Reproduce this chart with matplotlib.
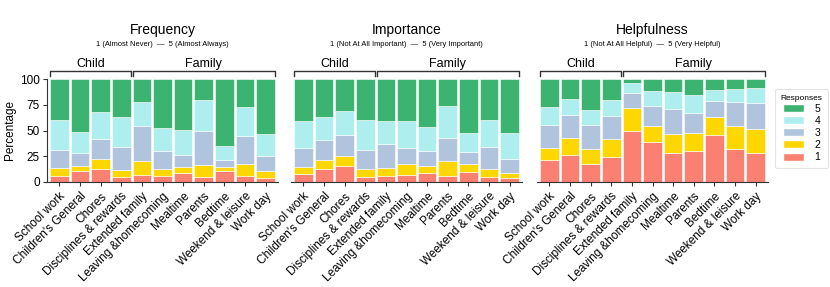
import matplotlib
matplotlib.use("Agg")
import matplotlib.pyplot as plt
import numpy as np
from matplotlib.patches import Patch

plt.rcParams['font.family'] = ['Liberation Sans', 'DejaVu Sans']

categories = ["School work", "Children's General", "Chores", "Disciplines & rewards",
              "Extended family", "Leaving &homecoming", "Mealtime", "Parents",
              "Bedtime", "Weekend & leisure", "Work day"]
groups = [("Child", 0, 3), ("Family", 4, 10)]
responses = ["1", "2", "3", "4", "5"]
colors = {"1": "#FA8072", "2": "#FFD700", "3": "#B0C4DE", "4": "#AFEEEE", "5": "#3CB371"}

titles = ["Frequency", "Importance", "Helpfulness"]
subtitles = ["1 (Almost Never)  —  5 (Almost Always)",
             "1 (Not At All Important)  —  5 (Very Important)",
             "1 (Not At All Helpful)  —  5 (Very Helpful)"]

# cumulative tops of responses 1..4 (5 fills to 100)
freq_cum = [
    [6.2, 13.3, 31.5, 60.0], [10.4, 15.6, 28.2, 48.7], [12.3, 22.7, 42.2, 68.2],
    [4.5, 12.0, 33.8, 62.7], [6.5, 20.8, 54.5, 77.3], [6.2, 13.0, 29.9, 52.6],
    [8.8, 14.9, 26.0, 50.3], [4.9, 16.6, 49.7, 79.5], [10.7, 14.6, 21.4, 35.1],
    [5.8, 17.2, 44.8, 73.0], [3.9, 10.7, 25.6, 47.0]]
imp_cum = [
    [7.5, 14.3, 32.8, 59.0], [12.3, 21.1, 40.6, 62.7], [15.3, 25.3, 45.5, 68.8],
    [4.5, 12.3, 31.2, 60.0], [5.8, 14.0, 37.0, 58.8], [7.1, 17.5, 32.8, 59.4],
    [8.8, 15.9, 30.5, 53.2], [5.8, 20.1, 42.5, 73.7], [9.7, 17.9, 28.9, 47.1],
    [4.9, 12.3, 33.8, 60.4], [3.9, 9.1, 22.4, 47.1]]
help_cum = [
    [21.4, 32.8, 55.5, 73.0], [26.0, 42.9, 64.9, 80.8], [17.9, 31.8, 55.2, 70.1],
    [24.4, 41.6, 64.0, 79.5], [49.4, 72.1, 86.7, 96.1], [39.0, 53.9, 74.0, 88.6],
    [28.6, 46.8, 71.1, 87.7], [30.5, 47.4, 67.2, 84.1], [45.8, 63.0, 78.6, 89.0],
    [32.5, 54.5, 77.6, 90.3], [28.2, 51.9, 76.3, 91.6]]
panels = [freq_cum, imp_cum, help_cum]

W, H = 830, 287
fig = plt.figure(figsize=(W / 100, H / 100), dpi=100)

lefts = [47, 291, 537]
ax_w = 231
y_top, y_bot = 79, 182
x = np.arange(len(categories))
dark = "#333333"

for i, (cum, left) in enumerate(zip(panels, lefts)):
    ax = fig.add_axes([left / W, (H - y_bot) / H, ax_w / W, (y_bot - y_top) / H])
    cum = np.array(cum)
    full = np.hstack([np.zeros((len(categories), 1)), cum, np.full((len(categories), 1), 100.0)])
    for k, r in enumerate(responses):
        ax.bar(x, full[:, k + 1] - full[:, k], bottom=full[:, k], width=0.9,
               color=colors[r], edgecolor="white", linewidth=0.4)
    ax.set_xlim(-0.6, 10.6)
    ax.set_ylim(0, 100)
    ax.set_xticks(x)
    ax.set_xticklabels(categories, rotation=45, ha="right", rotation_mode="anchor",
                       fontsize=8.5)
    ax.tick_params(axis="x", length=3, color=dark, pad=3)
    for s in ["top", "right"]:
        ax.spines[s].set_visible(False)
    ax.spines["bottom"].set_color(dark)
    if i == 0:
        ax.set_yticks([0, 25, 50, 75, 100])
        ax.tick_params(axis="y", length=3, color=dark, labelsize=8.5, pad=2)
        ax.spines["left"].set_color(dark)
        ax.set_ylabel("Percentage", fontsize=8.5, labelpad=3)
    else:
        ax.spines["left"].set_visible(False)
        ax.set_yticks([])
    # group brackets
    for name, a, b in groups:
        x0, x1 = a - 0.45, b + 0.45
        ax.plot([x0, x0, x1, x1], [103, 107.3, 107.3, 103], color=dark, lw=1,
                clip_on=False)
        ax.text((x0 + x1) / 2, 108.5, name, ha="center", va="bottom", fontsize=9)
    cx = (left + ax_w / 2) / W
    fig.text(cx, 1 - 30 / H, titles[i], ha="center", va="center", fontsize=10)
    fig.text(cx, 1 - 45 / H, subtitles[i], ha="center", va="center", fontsize=5.4)

handles = [Patch(facecolor=colors[r], edgecolor="white", label=r) for r in reversed(responses)]
leg = fig.legend(handles=handles, title="Responses", loc="upper left",
                 bbox_to_anchor=(775 / W, 1 - 89 / H), fontsize=7.5, title_fontsize=6,
                 frameon=True, handlelength=2.0, handleheight=0.8, labelspacing=0.2,
                 borderpad=0.55, handletextpad=1.0, borderaxespad=0)
leg.get_frame().set_edgecolor("#dddddd")
leg.get_frame().set_linewidth(0.8)

fig.savefig("out.png", dpi=100)
